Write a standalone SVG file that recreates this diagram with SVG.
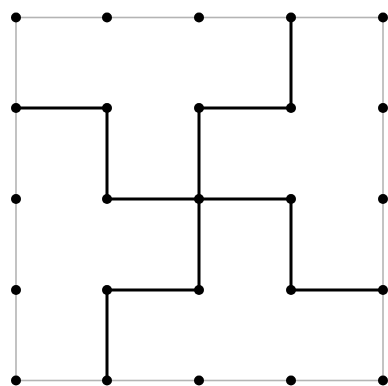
<svg xmlns="http://www.w3.org/2000/svg" width="388" height="386" viewBox="0 0 388 386">
<style>
.border{fill:none;stroke:#b4b4b4;stroke-width:1.6}
.edge{fill:none;stroke:#000;stroke-width:3;stroke-linecap:round;stroke-linejoin:round}
.dot{fill:#000}
</style>
<rect width="388" height="386" fill="#fff"/>
<rect class="border" x="16" y="17.5" width="367" height="363"/>
<g id="connectors">
<polyline class="edge" points="16,108 107,108 107,199 291,199 291,290 383,290"/>
<polyline class="edge" points="291,17 291,108 199,108 199,290 107,290 107,381"/>
</g>
<g id="nodes">
<circle id="n11" class="dot" cx="16" cy="17.5" r="5"/>
<circle id="n12" class="dot" cx="107" cy="17.5" r="5"/>
<circle id="n13" class="dot" cx="199" cy="17.5" r="5"/>
<circle id="n14" class="dot" cx="291" cy="17.5" r="5"/>
<circle id="n15" class="dot" cx="383" cy="17.5" r="5"/>
<circle id="n21" class="dot" cx="16" cy="108" r="5"/>
<circle id="n22" class="dot" cx="107" cy="108" r="5"/>
<circle id="n23" class="dot" cx="199" cy="108" r="5"/>
<circle id="n24" class="dot" cx="291" cy="108" r="5"/>
<circle id="n25" class="dot" cx="383" cy="108" r="5"/>
<circle id="n31" class="dot" cx="16" cy="199" r="5"/>
<circle id="n32" class="dot" cx="107" cy="199" r="5"/>
<circle id="n33" class="dot" cx="199" cy="199" r="5"/>
<circle id="n34" class="dot" cx="291" cy="199" r="5"/>
<circle id="n35" class="dot" cx="383" cy="199" r="5"/>
<circle id="n41" class="dot" cx="16" cy="290" r="5"/>
<circle id="n42" class="dot" cx="107" cy="290" r="5"/>
<circle id="n43" class="dot" cx="199" cy="290" r="5"/>
<circle id="n44" class="dot" cx="291" cy="290" r="5"/>
<circle id="n45" class="dot" cx="383" cy="290" r="5"/>
<circle id="n51" class="dot" cx="16" cy="380.5" r="5"/>
<circle id="n52" class="dot" cx="107" cy="380.5" r="5"/>
<circle id="n53" class="dot" cx="199" cy="380.5" r="5"/>
<circle id="n54" class="dot" cx="291" cy="380.5" r="5"/>
<circle id="n55" class="dot" cx="383" cy="380.5" r="5"/>
</g>
</svg>
